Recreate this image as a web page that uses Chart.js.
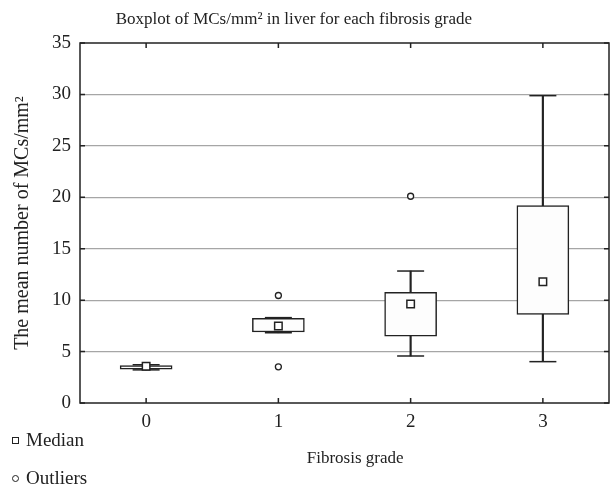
<!DOCTYPE html>
<html>
<head>
<meta charset="utf-8">
<script src="https://cdn.jsdelivr.net/npm/chart.js@4/dist/chart.umd.min.js"></script>
<style>
  body { margin: 0; background: #fff; }
  #wrap { position: relative; width: 610px; height: 486px; }
  #chart { position: absolute; left: 0; top: 0; }
  .key { position: absolute; left: 12px; font-family: "Liberation Serif", serif; font-size: 19px; color: #222; white-space: nowrap; }
  .sq { display: inline-block; width: 5px; height: 5px; border: 1.3px solid #222; margin-right: 7px; vertical-align: 2px; }
  .ci { display: inline-block; width: 5px; height: 5px; border: 1.3px solid #222; border-radius: 50%; margin-right: 7px; vertical-align: 2px; }
</style>
</head>
<body>
<div id="wrap">
  <canvas id="chart" width="610" height="486"></canvas>
  <div class="key" style="top:429px"><span class="sq"></span>Median</div>
  <div class="key" style="top:467px"><span class="ci"></span>Outliers</div>
</div>
<script>
// Data
const grades = ['0', '1', '2', '3'];
const whiskerMin = [3.22, 6.83, 4.57, 4.02];
const q1 = [3.30, 6.90, 6.50, 8.62];
const median = [3.58, 7.48, 9.62, 11.8];
const q3 = [3.65, 8.23, 10.75, 19.2];
const whiskerMax = [3.72, 8.30, 12.83, 29.88];
const outlierGrade = ['1', '1', '2'];
const outlierValue = [10.45, 3.52, 20.1];

const yTicks = [0, 5, 10, 15, 20, 25, 30, 35];

const INK = '#222';
const FONT = 'Liberation Serif';

// frame with inward tick marks
const framePlugin = {
    id: 'frame',
    beforeDatasetsDraw(chart) {
        const { ctx, chartArea: a, scales } = chart;
        ctx.save();
        ctx.strokeStyle = INK;
        ctx.lineWidth = 1.5;
        ctx.strokeRect(a.left, a.top, a.right - a.left, a.bottom - a.top);
        ctx.beginPath();
        grades.forEach((g, i) => {
            const x = scales.x.getPixelForValue(i);
            ctx.moveTo(x, a.bottom); ctx.lineTo(x, a.bottom - 5);
            ctx.moveTo(x, a.top); ctx.lineTo(x, a.top + 5);
        });
        yTicks.forEach(v => {
            const y = scales.y.getPixelForValue(v);
            ctx.moveTo(a.left, y); ctx.lineTo(a.left + 5, y);
            ctx.moveTo(a.right, y); ctx.lineTo(a.right - 5, y);
        });
        ctx.stroke();
        ctx.restore();
    }
};

const ctx = document.getElementById('chart').getContext('2d');
new Chart(ctx, {
    type: 'bar',
    data: {
        labels: grades,
        datasets: [
            {
                label: 'whisker',
                data: grades.map((g, i) => [whiskerMin[i], whiskerMax[i]]),
                backgroundColor: INK,
                borderWidth: 0,
                barThickness: 1.5,
                grouped: false,
                order: 4
            },
            {
                label: 'box',
                data: grades.map((g, i) => [q1[i], q3[i]]),
                backgroundColor: '#fdfdfd',
                borderColor: INK,
                borderWidth: 1.5,
                borderSkipped: false,
                barThickness: 52,
                grouped: false,
                order: 3
            },
            {
                type: 'line',
                label: 'capLow',
                data: whiskerMin,
                showLine: false,
                pointStyle: 'line',
                pointRadius: 13.5,
                pointBorderColor: INK,
                pointBorderWidth: 1.5,
                order: 2
            },
            {
                type: 'line',
                label: 'capHigh',
                data: whiskerMax,
                showLine: false,
                pointStyle: 'line',
                pointRadius: 13.5,
                pointBorderColor: INK,
                pointBorderWidth: 1.5,
                order: 2
            },
            {
                type: 'line',
                label: 'Median',
                data: median,
                showLine: false,
                pointStyle: 'rect',
                pointRadius: 5.3,
                pointBackgroundColor: '#fff',
                pointBorderColor: INK,
                pointBorderWidth: 1.5,
                order: 1
            },
            {
                type: 'line',
                label: 'Outliers',
                data: outlierGrade.map((g, i) => ({ x: g, y: outlierValue[i] })),
                showLine: false,
                pointStyle: 'circle',
                pointRadius: 3,
                pointBackgroundColor: '#fff',
                pointBorderColor: INK,
                pointBorderWidth: 1.3,
                order: 0
            }
        ]
    },
    options: {
        responsive: false,
        animation: false,
        layout: { autoPadding: false, padding: { top: 0, right: 1, bottom: 0, left: 0 } },
        plugins: {
            legend: { display: false },
            tooltip: { enabled: false },
            title: {
                display: true,
                // trailing spaces nudge the centred title a little to the left
                text: 'Boxplot of MCs/mm² in liver for each fibrosis grade     ',
                color: INK,
                font: { family: FONT, size: 17, weight: 'normal' },
                padding: { top: 9.8, bottom: 12.8 }
            }
        },
        scales: {
            x: {
                offset: true,
                grid: { display: false, drawTicks: false },
                border: { display: false },
                ticks: { color: INK, padding: 7.5, font: { family: FONT, size: 19 } },
                title: {
                    display: true,
                    text: '     Fibrosis grade',
                    color: INK,
                    font: { family: FONT, size: 17 },
                    padding: { top: 0, bottom: 16.8 }
                },
                afterFit(scale) { scale.height = 83; }
            },
            y: {
                min: 0,
                max: 35,
                grid: {
                    drawTicks: false,
                    color: c => (c.tick.value === 0 || c.tick.value === 35) ? 'rgba(0,0,0,0)' : '#a6a6a6',
                    lineWidth: 1.2
                },
                border: { display: false },
                ticks: {
                    stepSize: 5,
                    color: INK,
                    padding: 9,
                    font: { family: FONT, size: 19 }
                },
                title: {
                    display: true,
                    text: 'The mean number of MCs/mm²',
                    color: INK,
                    font: { family: FONT, size: 20 },
                    padding: { top: 11, bottom: 0 }
                },
                afterFit(scale) { scale.width = 80; }
            }
        }
    },
    plugins: [framePlugin]
});
</script>
</body>
</html>
